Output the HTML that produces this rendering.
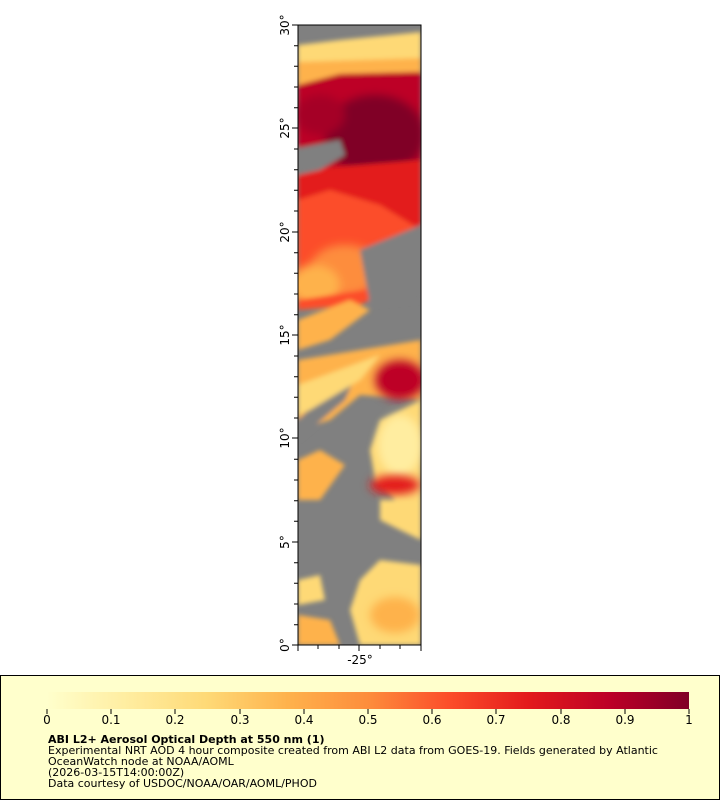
<!DOCTYPE html>
<html><head><style>
body{margin:0;background:#fff;width:720px;height:800px;position:relative;overflow:hidden;font-family:"DejaVu Sans","Liberation Sans",sans-serif}
</style></head><body>
<svg width="720" height="800" style="position:absolute;left:0;top:0" font-family="DejaVu Sans, Liberation Sans, sans-serif">
<defs>
<clipPath id="c"><rect x="298" y="25" width="123" height="620"/></clipPath>
<filter id="b" x="-20%" y="-20%" width="140%" height="140%"><feGaussianBlur stdDeviation="4"/></filter>
<filter id="b2" x="-10%" y="-10%" width="120%" height="120%"><feGaussianBlur stdDeviation="2.5"/></filter>
<linearGradient id="cb" x1="0" x2="1">
<stop offset="0" stop-color="#ffffcc"/><stop offset="0.125" stop-color="#ffeda0"/><stop offset="0.25" stop-color="#fed976"/><stop offset="0.375" stop-color="#feb24c"/><stop offset="0.5" stop-color="#fd8d3c"/><stop offset="0.625" stop-color="#fc4e2a"/><stop offset="0.75" stop-color="#e31a1c"/><stop offset="0.875" stop-color="#bd0026"/><stop offset="1" stop-color="#800026"/>
</linearGradient>
</defs>
<g clip-path="url(#c)">
<rect x="298" y="25" width="123" height="620" fill="#808080"/>
<g filter="url(#b2)">
<polygon points="298,45 340,40 421,32 421,75 298,85" fill="#fed976"/>
<polygon points="298,62 421,58 421,82 298,92" fill="#feb24c"/>
<polygon points="298,85 340,74 421,72 421,175 380,200 340,195 298,210" fill="#bd0026"/>
<ellipse cx="375" cy="135" rx="50" ry="40" fill="#800026" filter="url(#b)"/>
<ellipse cx="320" cy="115" rx="25" ry="20" fill="#a50026" filter="url(#b)"/>
<polygon points="298,170 421,160 421,240 380,280 298,290" fill="#e31a1c"/>
<polygon points="298,200 330,190 380,205 421,230 421,260 380,300 298,300" fill="#fc4e2a"/>
<ellipse cx="345" cy="270" rx="35" ry="25" fill="#fd8d3c" filter="url(#b)"/>
<ellipse cx="315" cy="285" rx="25" ry="20" fill="#feb24c" filter="url(#b)"/>
<polygon points="298,300 400,285 360,305 298,310" fill="#fc4e2a"/>
<polygon points="298,148 340,140 345,155 320,170 298,175" fill="#808080"/>
<polygon points="360,250 421,225 421,300 370,305" fill="#808080"/>
<polygon points="298,320 350,300 370,310 330,340 298,350" fill="#feb24c"/>
<polygon points="298,360 421,340 421,400 360,395 330,420 298,430" fill="#feb24c"/>
<polygon points="330,390 360,365 345,400 298,440 298,420" fill="#808080"/>
<polygon points="298,385 380,355 360,380 310,410 298,415" fill="#fed976"/>
<ellipse cx="400" cy="380" rx="25" ry="20" fill="#bd0026" filter="url(#b)"/>
<polygon points="380,420 421,400 421,510 395,500 375,480 370,450" fill="#fed976"/>
<ellipse cx="400" cy="445" rx="22" ry="30" fill="#ffeda0" filter="url(#b)"/>
<ellipse cx="395" cy="485" rx="25" ry="10" fill="#e31a1c" filter="url(#b)"/>
<polygon points="298,460 320,450 345,465 320,500 298,500" fill="#feb24c"/>
<polygon points="380,500 421,500 421,540 400,530 380,520" fill="#fed976"/>
<polygon points="298,580 320,575 325,600 298,605" fill="#fed976"/>
<polygon points="360,580 380,560 421,565 421,645 360,645 350,610" fill="#fed976"/>
<polygon points="298,615 330,620 340,645 298,645" fill="#feb24c"/>
<ellipse cx="395" cy="615" rx="25" ry="18" fill="#feb24c" filter="url(#b)"/>
</g>
</g>
<rect x="298" y="25" width="123" height="620" fill="none" stroke="#000" stroke-width="1"/>
<g stroke="#000">
<line x1="292" y1="25" x2="298" y2="25"/><line x1="292" y1="128" x2="298" y2="128"/><line x1="292" y1="232" x2="298" y2="232"/><line x1="292" y1="335" x2="298" y2="335"/><line x1="292" y1="438" x2="298" y2="438"/><line x1="292" y1="542" x2="298" y2="542"/><line x1="292" y1="645" x2="298" y2="645"/>
<path d="M294 45.7H298M294 66.3H298M294 87H298M294 107.7H298M294 149H298M294 169.7H298M294 190.3H298M294 211H298M294 252.7H298M294 273.3H298M294 294H298M294 314.7H298M294 356H298M294 376.7H298M294 397.3H298M294 418H298M294 459.3H298M294 480H298M294 500.7H298M294 521.3H298M294 562.7H298M294 583.3H298M294 604H298M294 624.7H298"/>
<line x1="298" y1="645" x2="298" y2="651"/><line x1="318" y1="645" x2="318" y2="649"/><line x1="339" y1="645" x2="339" y2="649"/><line x1="359" y1="645" x2="359" y2="651"/><line x1="380" y1="645" x2="380" y2="649"/><line x1="400" y1="645" x2="400" y2="649"/><line x1="421" y1="645" x2="421" y2="651"/>
</g>
<g font-size="12" fill="#000">
<text transform="translate(289,25) rotate(-90)" text-anchor="middle">30°</text>
<text transform="translate(289,128) rotate(-90)" text-anchor="middle">25°</text>
<text transform="translate(289,232) rotate(-90)" text-anchor="middle">20°</text>
<text transform="translate(289,335) rotate(-90)" text-anchor="middle">15°</text>
<text transform="translate(289,438) rotate(-90)" text-anchor="middle">10°</text>
<text transform="translate(289,542) rotate(-90)" text-anchor="middle">5°</text>
<text transform="translate(289,645) rotate(-90)" text-anchor="middle">0°</text>
<text x="360" y="664" text-anchor="middle">-25°</text>
</g>
<rect x="0.5" y="675.5" width="719" height="124" fill="#ffffcc" stroke="#000"/>
<rect x="47" y="692" width="642" height="17" fill="url(#cb)"/>
<g stroke="#000">
<line x1="47" y1="709" x2="47" y2="714"/><line x1="111" y1="709" x2="111" y2="714"/><line x1="175" y1="709" x2="175" y2="714"/><line x1="240" y1="709" x2="240" y2="714"/><line x1="304" y1="709" x2="304" y2="714"/><line x1="368" y1="709" x2="368" y2="714"/><line x1="432" y1="709" x2="432" y2="714"/><line x1="496" y1="709" x2="496" y2="714"/><line x1="561" y1="709" x2="561" y2="714"/><line x1="625" y1="709" x2="625" y2="714"/><line x1="689" y1="709" x2="689" y2="714"/>
</g>
<g font-size="12" fill="#000" text-anchor="middle">
<text x="47" y="724">0</text><text x="111" y="724">0.1</text><text x="175" y="724">0.2</text><text x="240" y="724">0.3</text><text x="304" y="724">0.4</text><text x="368" y="724">0.5</text><text x="432" y="724">0.6</text><text x="496" y="724">0.7</text><text x="561" y="724">0.8</text><text x="625" y="724">0.9</text><text x="689" y="724">1</text>
</g>
<g font-size="11" fill="#000">
<text x="48" y="743" font-weight="bold">ABI L2+ Aerosol Optical Depth at 550 nm (1)</text>
<text x="48" y="754">Experimental NRT AOD 4 hour composite created from ABI L2 data from GOES-19. Fields generated by Atlantic</text>
<text x="48" y="765">OceanWatch node at NOAA/AOML</text>
<text x="48" y="776">(2026-03-15T14:00:00Z)</text>
<text x="48" y="787">Data courtesy of USDOC/NOAA/OAR/AOML/PHOD</text>
</g>
</svg>
</body></html>
